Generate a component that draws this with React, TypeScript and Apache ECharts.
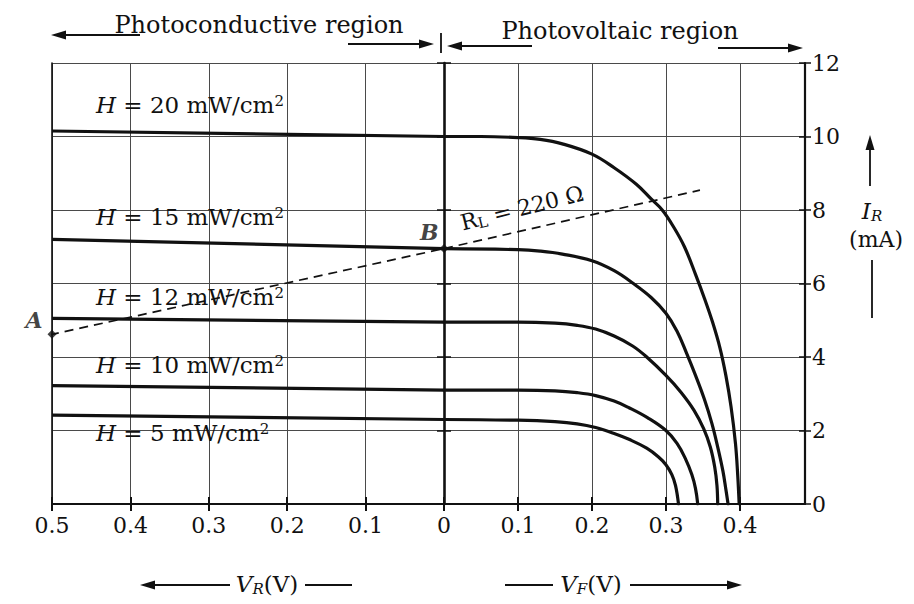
import React, { useEffect, useRef } from 'react';
import * as echarts from 'echarts';

const FONT = "'DejaVu Serif', serif";
const INK = '#111';
const GRIDC = '#4a4a4a';

// Irradiance levels (mW/cm²), top curve first
const irradiance = ['20', '15', '12', '10', '5'];

// Reverse-bias (photoconductive) branch: [V (negative = reverse), I (mA)]
const reverseH20 = [[-0.5, 10.15], [0, 10.0]];
const reverseH15 = [[-0.5, 7.2], [0, 6.95]];
const reverseH12 = [[-0.5, 5.05], [0, 4.95]];
const reverseH10 = [[-0.5, 3.22], [0, 3.1]];
const reverseH5 = [[-0.5, 2.42], [0, 2.3]];

// Forward (photovoltaic) branch: [V, I (mA)]
const forwardH20 = [[0, 10.0], [0.05, 10.0], [0.1, 9.97], [0.13, 9.92], [0.16, 9.8], [0.2, 9.52], [0.23, 9.15], [0.26, 8.7], [0.28, 8.3], [0.295, 8.0], [0.31, 7.55], [0.325, 7.0], [0.34, 6.25], [0.352, 5.6], [0.363, 4.95], [0.373, 4.25], [0.381, 3.5], [0.388, 2.65], [0.394, 1.65], [0.397, 0.8], [0.399, 0]];
const forwardH15 = [[0, 6.95], [0.1, 6.92], [0.13, 6.88], [0.16, 6.8], [0.2, 6.62], [0.23, 6.35], [0.256, 6.0], [0.28, 5.62], [0.3, 5.19], [0.315, 4.7], [0.328, 4.1], [0.34, 3.5], [0.352, 2.85], [0.362, 2.2], [0.37, 1.55], [0.377, 0.9], [0.381, 0.4], [0.384, 0]];
const forwardH12 = [[0, 4.95], [0.1, 4.95], [0.15, 4.92], [0.18, 4.86], [0.205, 4.76], [0.23, 4.57], [0.255, 4.3], [0.274, 4.0], [0.3, 3.5], [0.32, 3.05], [0.338, 2.55], [0.351, 2.05], [0.36, 1.55], [0.366, 1.0], [0.369, 0.5], [0.37, 0]];
const forwardH10 = [[0, 3.1], [0.1, 3.1], [0.15, 3.08], [0.18, 3.03], [0.205, 2.95], [0.23, 2.8], [0.25, 2.62], [0.275, 2.35], [0.3, 2.0], [0.315, 1.65], [0.326, 1.25], [0.335, 0.8], [0.34, 0.42], [0.343, 0]];
const forwardH5 = [[0, 2.3], [0.1, 2.28], [0.15, 2.24], [0.18, 2.18], [0.205, 2.08], [0.23, 1.92], [0.25, 1.76], [0.274, 1.52], [0.29, 1.28], [0.3, 1.07], [0.308, 0.8], [0.313, 0.5], [0.317, 0]];

const reverseCurves = [reverseH20, reverseH15, reverseH12, reverseH10, reverseH5];
const forwardCurves = [forwardH20, forwardH15, forwardH12, forwardH10, forwardH5];

// Load line R_L = 220 Ω, through A and B
const loadLineReverse = [[-0.54, 4.43], [0, 6.95]];
const loadLineForward = [[0, 6.95], [0.346, 8.54]];
const pointA = [-0.5, 4.62];
const pointB = [0, 6.95];

// Axes
const reverseRange = [-0.5, 0];
const forwardRange = [0, 0.488];
const currentRange = [0, 12];
const voltStep = 0.1;
const currentStep = 2;

// Curve label vertical positions (px) – annotation layout
const labelY = [105, 217, 297, 365, 433];

function hArrow(x1: number, x2: number, y: number) {
  const dir = x2 > x1 ? 1 : -1;
  return [
    { type: 'line', shape: { x1, y1: y, x2: x2 - dir * 8, y2: y }, style: { stroke: INK, lineWidth: 1.8 } },
    { type: 'polygon', shape: { points: [[x2, y], [x2 - dir * 15, y - 4.5], [x2 - dir * 15, y + 4.5]] }, style: { fill: INK } },
  ];
}
function vArrowUp(x: number, yBottom: number, yTop: number) {
  return [
    { type: 'line', shape: { x1: x, y1: yBottom, x2: x, y2: yTop + 8 }, style: { stroke: INK, lineWidth: 1.8 } },
    { type: 'polygon', shape: { points: [[x, yTop], [x - 4.5, yTop + 15], [x + 4.5, yTop + 15]] }, style: { fill: INK } },
  ];
}
function hLine(x1: number, x2: number, y: number) {
  return { type: 'line', shape: { x1, y1: y, x2, y2: y }, style: { stroke: INK, lineWidth: 1.8 } };
}

const fmtAbs = (v: number) => (Math.abs(v) < 1e-9 ? '0' : Math.abs(v).toFixed(1));
const fmtFwd = (v: number) => (Math.abs(v) < 1e-9 ? '' : v.toFixed(1));

const lineBase = { type: 'line', symbol: 'none', showSymbol: false, silent: true };

const subRich = { fontStyle: 'italic', fontSize: 15, fontFamily: FONT, fill: INK, verticalAlign: 'bottom', padding: [10, 0, 0, 0] };
const italRich = { fontStyle: 'italic', fontSize: 23, fontFamily: FONT, fill: INK };

function buildOption() {
  const series: any[] = [];
  reverseCurves.forEach((d) => {
    series.push({ ...lineBase, xAxisIndex: 0, yAxisIndex: 0, data: d, lineStyle: { color: INK, width: 3.2 }, z: 5 });
  });
  forwardCurves.forEach((d) => {
    series.push({ ...lineBase, xAxisIndex: 1, yAxisIndex: 1, data: d, smooth: 0.4, lineStyle: { color: INK, width: 3.2, join: 'round', cap: 'round' }, z: 5 });
  });
  series.push({ ...lineBase, xAxisIndex: 0, yAxisIndex: 0, data: loadLineReverse, clip: false, lineStyle: { color: INK, width: 1.7, type: [9, 6] }, z: 6 });
  series.push({ ...lineBase, xAxisIndex: 1, yAxisIndex: 1, data: loadLineForward, clip: false, lineStyle: { color: INK, width: 1.7, type: [9, 6] }, z: 6 });
  const ptLabel = { show: true, position: 'left', fontSize: 22, fontStyle: 'italic', fontWeight: 'bold', fontFamily: FONT, color: INK };
  series.push({ type: 'scatter', xAxisIndex: 0, yAxisIndex: 0, data: [pointA], clip: false, symbol: 'diamond', symbolSize: 9, silent: true, itemStyle: { color: INK }, label: { ...ptLabel, formatter: 'A', offset: [0, -14] }, z: 7 });
  series.push({ type: 'scatter', xAxisIndex: 1, yAxisIndex: 1, data: [pointB], clip: false, symbol: 'diamond', symbolSize: 9, silent: true, itemStyle: { color: INK }, label: { ...ptLabel, formatter: 'B', offset: [4, -17] }, z: 7 });

  const gridBox = { top: 63, height: 441 };
  const xCommon = (gi: number, range: number[], fmt: any) => ({
    type: 'value', gridIndex: gi, min: range[0], max: range[1], interval: voltStep, position: 'bottom',
    axisLine: { onZero: false, lineStyle: { color: INK, width: 2 } },
    axisTick: { show: true, length: 7, lineStyle: { color: INK, width: 2 } },
    axisLabel: { formatter: fmt, fontSize: 22, fontFamily: FONT, color: INK, margin: 10, showMaxLabel: gi === 0, showMinLabel: true },
    splitLine: { show: true, lineStyle: { color: GRIDC, width: 1 } },
  });
  const xInside = (gi: number, range: number[]) => ({
    type: 'value', gridIndex: gi, min: range[0], max: range[1], interval: voltStep, position: 'bottom',
    axisLine: { show: false, onZero: false },
    axisTick: { show: true, inside: true, length: 7, lineStyle: { color: INK, width: 2 } },
    axisLabel: { show: false }, splitLine: { show: false },
  });
  const yBase = { type: 'value', min: currentRange[0], max: currentRange[1], interval: currentStep };

  const graphic: any[] = [];
  irradiance.forEach((h, i) => {
    graphic.push({
      type: 'text', x: 96, y: labelY[i], z: 10,
      style: {
        text: `{i|H} = ${h} mW/cm{s|2}`, fill: INK, fontFamily: FONT, fontSize: 23, verticalAlign: 'middle',
        rich: {
          i: { fontStyle: 'italic', fontSize: 23, fontFamily: FONT, fill: INK },
          s: { fontSize: 15, fontFamily: FONT, fill: INK, verticalAlign: 'top', padding: [0, 0, 8, 0] },
        },
      },
    });
  });
  graphic.push({
    type: 'text', x: 522, y: 208, rotation: (14 * Math.PI) / 180, z: 10,
    style: {
      text: 'R{sub|L} = 220 Ω', fill: INK, fontFamily: FONT, fontSize: 22, align: 'center', verticalAlign: 'middle',
      rich: { sub: { fontSize: 15, fontFamily: FONT, fill: INK, verticalAlign: 'bottom', padding: [9, 0, 0, 0] } },
    },
  });
  // Region headers
  graphic.push({ type: 'text', x: 259, y: 25, style: { text: 'Photoconductive region', fill: INK, fontFamily: FONT, fontSize: 24, align: 'center', verticalAlign: 'middle' } });
  graphic.push({ type: 'text', x: 620, y: 31, style: { text: 'Photovoltaic region', fill: INK, fontFamily: FONT, fontSize: 24, align: 'center', verticalAlign: 'middle' } });
  graphic.push(...hArrow(140, 51, 35));
  graphic.push(...hArrow(348, 434, 44));
  graphic.push({ type: 'line', shape: { x1: 441, y1: 33, x2: 441, y2: 53 }, style: { stroke: INK, lineWidth: 1.8 } });
  graphic.push(...hArrow(532, 447, 46));
  graphic.push(...hArrow(718, 803, 48));
  // Bottom axis titles
  graphic.push(...hArrow(230, 140, 585));
  graphic.push({
    type: 'text', x: 267, y: 584,
    style: { text: '{i|V}{sub|R}(V)', fill: INK, fontFamily: FONT, fontSize: 23, align: 'center', verticalAlign: 'middle', rich: { i: italRich, sub: subRich } },
  });
  graphic.push(hLine(305, 352, 585));
  graphic.push(hLine(505, 553, 585));
  graphic.push({
    type: 'text', x: 591, y: 584,
    style: { text: '{i|V}{sub|F}(V)', fill: INK, fontFamily: FONT, fontSize: 23, align: 'center', verticalAlign: 'middle', rich: { i: italRich, sub: subRich } },
  });
  graphic.push(...hArrow(630, 742, 585));
  // Right axis title
  graphic.push(...vArrowUp(870, 186, 135));
  graphic.push({
    type: 'text', x: 872, y: 211,
    style: { text: '{i|I}{sub|R}', fill: INK, fontFamily: FONT, fontSize: 23, align: 'center', verticalAlign: 'middle', rich: { i: italRich, sub: subRich } },
  });
  graphic.push({ type: 'text', x: 876, y: 239, style: { text: '(mA)', fill: INK, fontFamily: FONT, fontSize: 22, align: 'center', verticalAlign: 'middle' } });
  graphic.push({ type: 'line', shape: { x1: 872, y1: 260, x2: 872, y2: 318 }, style: { stroke: INK, lineWidth: 1.8 } });

  return {
    animation: false,
    backgroundColor: '#fff',
    grid: [
      { left: 52, width: 392, ...gridBox },
      { left: 444, width: 361, ...gridBox },
      { left: 52, width: 392, ...gridBox },
      { left: 444, width: 361, ...gridBox },
    ],
    xAxis: [
      xCommon(0, reverseRange, fmtAbs),
      xCommon(1, forwardRange, fmtFwd),
      xInside(2, reverseRange),
      xInside(3, forwardRange),
    ],
    yAxis: [
      { ...yBase, gridIndex: 0, position: 'left', axisLine: { show: true, onZero: false, lineStyle: { color: INK, width: 1.6 } }, axisTick: { show: false }, axisLabel: { show: false }, splitLine: { show: true, lineStyle: { color: GRIDC, width: 1 } } },
      { ...yBase, gridIndex: 1, position: 'left', axisLine: { show: true, onZero: false, lineStyle: { color: INK, width: 2.6 } }, axisTick: { show: true, length: 7, lineStyle: { color: INK, width: 1.5 } }, axisLabel: { show: false }, splitLine: { show: true, lineStyle: { color: GRIDC, width: 1 } } },
      { ...yBase, gridIndex: 1, position: 'right', axisLine: { show: true, onZero: false, lineStyle: { color: INK, width: 2.2 } }, axisTick: { show: true, length: 6, lineStyle: { color: INK, width: 1.5 } }, axisLabel: { show: true, fontSize: 22, fontFamily: FONT, color: INK, margin: 7 }, splitLine: { show: false } },
      { ...yBase, gridIndex: 2, show: false },
      { ...yBase, gridIndex: 3, position: 'left', axisLine: { show: false, onZero: false }, axisTick: { show: true, inside: true, length: 7, lineStyle: { color: INK, width: 1.5 } }, axisLabel: { show: false }, splitLine: { show: false } },
      { ...yBase, gridIndex: 3, position: 'right', axisLine: { show: false, onZero: false }, axisTick: { show: true, inside: true, length: 6, lineStyle: { color: INK, width: 1.5 } }, axisLabel: { show: false }, splitLine: { show: false } },
    ],
    series,
    graphic,
  };
}

export default function App() {
  const ref = useRef<HTMLDivElement>(null);
  useEffect(() => {
    const chart = echarts.init(ref.current!, null, { renderer: 'svg' });
    chart.setOption(buildOption() as any);
    return () => chart.dispose();
  }, []);
  return <div ref={ref} style={{ position: 'fixed', left: 0, top: 0, width: 914, height: 604 }} />;
}
